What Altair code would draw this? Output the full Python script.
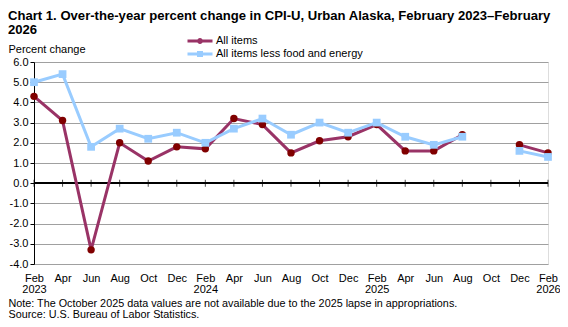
import altair as alt
import pandas as pd

periods = ["Feb 2023", "Apr 2023", "Jun 2023", "Aug 2023", "Oct 2023", "Dec 2023",
           "Feb 2024", "Apr 2024", "Jun 2024", "Aug 2024", "Oct 2024", "Dec 2024",
           "Feb 2025", "Apr 2025", "Jun 2025", "Aug 2025", "Oct 2025", "Dec 2025",
           "Feb 2026"]
all_items = [4.3, 3.1, -3.3, 2.0, 1.1, 1.8, 1.7, 3.2, 2.9, 1.5, 2.1, 2.3,
             2.9, 1.6, 1.6, 2.4, None, 1.9, 1.5]
core = [5.0, 5.4, 1.8, 2.7, 2.2, 2.5, 2.0, 2.7, 3.2, 2.4, 3.0, 2.5,
        3.0, 2.3, 1.9, 2.3, None, 1.6, 1.3]
series_names = ["All items", "All items less food and energy"]
y_ticks = [-4, -3, -2, -1, 0, 1, 2, 3, 4, 5, 6]

title_lines = ["Chart 1. Over-the-year percent change in CPI-U, Urban Alaska, February 2023\u2013February",
               "2026"]
note_lines = ["Note: The October 2025 data values are not available due to the 2025 lapse in appropriations.",
              "Source: U.S. Bureau of Labor Statistics."]

rows = []
for i, p in enumerate(periods):
    rows.append({"period": p, "series": series_names[0], "value": all_items[i]})
    rows.append({"period": p, "series": series_names[1], "value": core[i]})
df = pd.DataFrame(rows)

FONT = "Liberation Sans"
LEFT = 26

x_enc = alt.X(
    "period:O", sort=periods,
    scale=alt.Scale(type="point", padding=0),
    axis=alt.Axis(
        title=note_lines, titleAnchor="start", titleAlign="left", titleX=-LEFT, titleY=42,
        titleFont=FONT, titleFontSize=10.8, titleFontWeight="normal", titleLineHeight=11,
        titleBaseline="alphabetic",
        labelExpr="indexof(datum.label, 'Feb') == 0 ? split(datum.label, ' ') : slice(datum.label, 0, 3)",
        labelAngle=0, labelFont=FONT, labelFontSize=11, labelLineHeight=11, labelPadding=8,
        labelOverlap=False,
        domain=False, ticks=False, grid=False, labelColor="black", titleColor="black",
    ),
)
y_scale = alt.Scale(domain=[-4, 6], nice=False, zero=False)
y_axis = alt.Axis(
    values=y_ticks, tickCount=11, labelOverlap=False,
    labelExpr="(datum.value < 0 ? '-' : '') + format(abs(datum.value), '.1f')",
    title="Percent change", titleAngle=0, titleAlign="left", titleBaseline="alphabetic",
    titleX=-LEFT, titleY=-10, titleFont=FONT, titleFontSize=11, titleFontWeight="normal",
    labelFont=FONT, labelFontSize=11, labelPadding=2, labelColor="black", titleColor="black",
    grid=True, gridColor="#a0a0a0", gridWidth=1,
    domainColor="black", tickColor="black", tickSize=4,
)
y_enc = alt.Y("value:Q", scale=y_scale, axis=y_axis)
y_zero = alt.YDatum(0, type="quantitative", scale=y_scale, axis=y_axis)

base = alt.Chart(df)


def legend_for(path, y):
    return alt.Legend(
        title=None, orient="none", legendX=152, legendY=y, padding=0,
        symbolType=path, symbolSize=625, symbolStrokeWidth=3,
        labelFont=FONT, labelFontSize=11, labelColor="black", labelOffset=2,
    )


circle_path = "M-1,0H1M-0.12,0A0.12,0.12 0 1,1 0.12,0A0.12,0.12 0 1,1 -0.12,0Z"
square_path = "M-1,0H1M-0.12,-0.12H0.12V0.12H-0.12Z"

line_a = base.transform_filter(alt.datum.series == series_names[0]).mark_line(strokeWidth=3).encode(
    x=x_enc, y=y_enc,
    color=alt.Color("series:N", scale=alt.Scale(domain=[series_names[0]], range=["#993366"]),
                    legend=legend_for(circle_path, -35)),
)
pts_a = base.transform_filter(alt.datum.series == series_names[0]).mark_point(
    filled=True, shape="circle", size=55, opacity=1, color="#800000").encode(x=x_enc, y=y_enc)

line_b = base.transform_filter(alt.datum.series == series_names[1]).mark_line(strokeWidth=3).encode(
    x=x_enc, y=y_enc,
    color=alt.Color("series:N", scale=alt.Scale(domain=[series_names[1]], range=["#99CCFF"]),
                    legend=legend_for(square_path, -22)),
)
pts_b = base.transform_filter(alt.datum.series == series_names[1]).mark_point(
    filled=True, shape="square", size=60, opacity=1, color="#99CCFF").encode(x=x_enc, y=y_enc)

zero_rule = base.mark_rule(color="black", strokeWidth=1).encode(y=y_zero)
zero_ticks = base.transform_filter(alt.datum.series == series_names[0]).mark_tick(
    orient="vertical", size=7, thickness=1, color="black").encode(x=x_enc, y=y_zero)

chart = alt.layer(zero_rule, zero_ticks, line_a, pts_a, line_b, pts_b).resolve_scale(
    color="independent"
).properties(
    width=514, height=202,
    autosize=alt.AutoSizeParams(type="none"),
    padding={"left": LEFT, "top": 54, "right": 12, "bottom": 55},
    title=alt.TitleParams(
        text=title_lines, anchor="start", frame="group", font=FONT, fontSize=13.1,
        fontWeight="bold", color="black", dx=-LEFT, offset=4, dy=14, lineHeight=14,
    ),
).configure_view(stroke="#a0a0a0", strokeWidth=1).configure(background="white")

chart.save("out.html", embed_options={"renderer": "svg", "actions": False})
